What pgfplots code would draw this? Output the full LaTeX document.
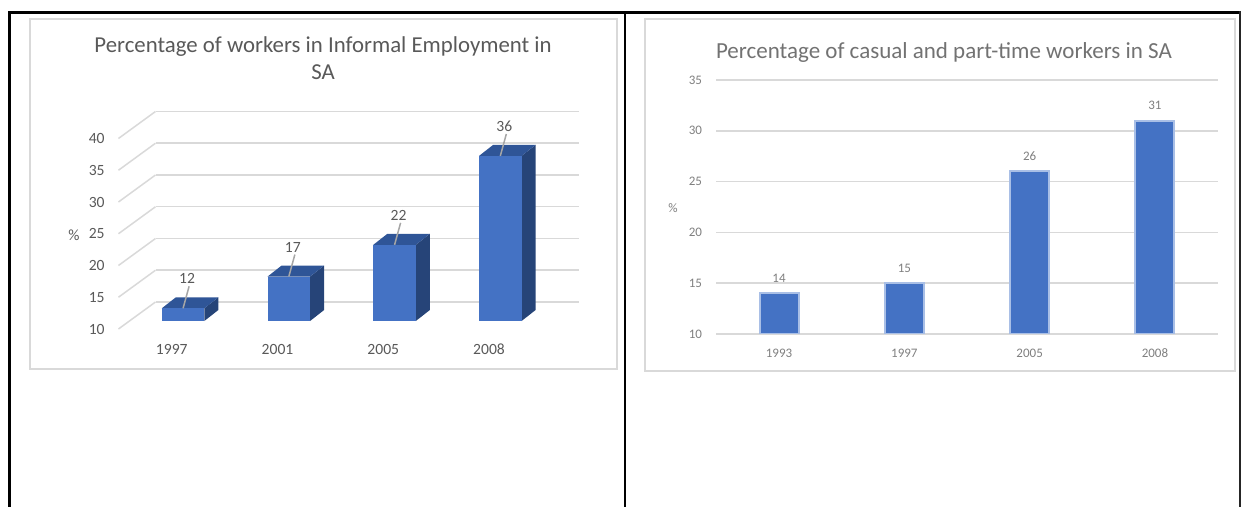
\documentclass[border=0pt]{standalone}
\usepackage{fontspec}
\setmainfont{Carlito}
\usepackage{pgfplots}
\pgfplotsset{compat=1.18}
\definecolor{barfront}{HTML}{4472C4}
\definecolor{bartop}{HTML}{2F5597}
\definecolor{barside}{HTML}{264478}
\definecolor{gridc}{HTML}{D9D9D9}
\definecolor{txt}{HTML}{595959}
\definecolor{txtr}{HTML}{7F7F7F}
\definecolor{baredge}{HTML}{A9BFE6}
\definecolor{leader}{HTML}{A6A6A6}

% 3D bar: #1 category position, #2 value
\newcommand\threedbar[2]{%
  \pgfmathsetmacro\xl{#1-0.201}%
  \pgfmathsetmacro\xr{#1+0.201}%
  \pgfmathsetmacro\xb{#1+0.201+0.1325}%
  \pgfmathsetmacro\xc{#1-0.201+0.1325}%
  \pgfmathsetmacro\vt{#2+1.73}%
  \edef\tmp{\noexpand\addplot[fill=barside, draw=none] coordinates {(\xr,10) (\xb,11.73) (\xb,\vt) (\xr,#2)};
    \noexpand\addplot[fill=bartop, draw=none] coordinates {(\xl,#2) (\xr,#2) (\xb,\vt) (\xc,\vt)};
    \noexpand\addplot[fill=barfront, draw=none] coordinates {(\xl,10) (\xr,10) (\xr,#2) (\xl,#2)};}%
  \tmp
}

\begin{document}
\begin{tikzpicture}
\useasboundingbox (0,0) rectangle (620.5pt,-253.5pt);
% table lines
\draw[black, line width=1.1pt] (4pt,-6.25pt) -- (620.5pt,-6.25pt);
\draw[black, line width=1.3pt] (4.6pt,-5.7pt) -- (4.6pt,-253.5pt);
\draw[black, line width=1.3pt] (312.5pt,-5.7pt) -- (312.5pt,-253.5pt);
\draw[black!85, line width=0.8pt] (620.1pt,-5.7pt) -- (620.1pt,-253.5pt);
% chart frames
\draw[gridc, line width=1pt] (15pt,-9.75pt) rectangle (308.5pt,-184.75pt);
\draw[gridc, line width=1pt] (322.5pt,-9.75pt) rectangle (617.5pt,-185.75pt);

% ---------- left chart (3D) ----------
\begin{axis}[
  at={(65.1pt,-160.5pt)}, anchor=south west,
  scale only axis, width=211.5pt, height=95.25pt,
  xmin=0.5, xmax=4.5, ymin=10, ymax=40,
  clip=false,
  axis line style={draw=none}, tick style={draw=none},
  xtick={1,2,3,4}, xticklabels={1997,2001,2005,2008},
  ytick={10,15,...,40},
  ymajorgrids,
  major grid style={gridc, line width=0.75pt, xshift=12.65pt, yshift=9.5pt},
  /pgf/number format/assume math mode=true,
  yticklabel style={anchor=east, inner sep=0pt, xshift=-12.6pt, yshift=-4pt,
    font=\fontsize{7.8}{9}\selectfont, text=txt},
  xticklabel style={anchor=center, inner sep=0pt, xshift=-5.65pt, yshift=-14pt,
    font=\fontsize{7.8}{9}\selectfont, text=txt},
  ylabel={\%},
  every axis y label/.style={at={(axis cs:-0.032,23.54)}, anchor=center,
    font=\fontsize{7.8}{9}\selectfont, text=txt},
  title={Percentage of workers in Informal Employment in\\SA},
  every axis title/.style={at={(rel axis cs:0.456,1.378)}, anchor=center,
    align=center, font=\fontsize{11.4}{13.5}\selectfont, text=txt},
]
% left wall diagonals
\draw[gridc, line width=0.75pt] (axis cs:0.389,8.74) -- (axis cs:0.739,12.99);
\draw[gridc, line width=0.75pt] (axis cs:0.389,13.74) -- (axis cs:0.739,17.99);
\draw[gridc, line width=0.75pt] (axis cs:0.389,18.74) -- (axis cs:0.739,22.99);
\draw[gridc, line width=0.75pt] (axis cs:0.389,23.74) -- (axis cs:0.739,27.99);
\draw[gridc, line width=0.75pt] (axis cs:0.389,28.74) -- (axis cs:0.739,32.99);
\draw[gridc, line width=0.75pt] (axis cs:0.389,33.74) -- (axis cs:0.739,37.99);
\draw[gridc, line width=0.75pt] (axis cs:0.389,38.74) -- (axis cs:0.739,42.99);
\threedbar{1}{12}
\threedbar{2}{17}
\threedbar{3}{22}
\threedbar{4}{36}
% leader lines
\addplot[quiver={u=0.057,v=3.46}, draw=leader, line width=0.75pt]
  coordinates {(1,12) (2,17) (3,22) (4,36)};
% data labels
\addplot[draw=none, nodes near coords,
  every node near coord/.append style={anchor=center, inner sep=0pt,
    xshift=2pt, yshift=14.7pt, font=\fontsize{7.8}{9}\selectfont, text=txt}]
  coordinates {(1,12) (2,17) (3,22) (4,36)};
\end{axis}

% ---------- right chart (flat) ----------
\begin{axis}[
  at={(358.2pt,-167pt)}, anchor=south west,
  scale only axis, width=250.6pt, height=127pt,
  xmin=0.5, xmax=4.5, ymin=10, ymax=35,
  axis line style={draw=none}, tick style={draw=none},
  xtick={1,2,3,4}, xticklabels={1993,1997,2005,2008},
  ytick={10,15,...,35},
  ymajorgrids,
  major grid style={gridc, line width=0.75pt},
  /pgf/number format/assume math mode=true,
  yticklabel style={anchor=east, inner sep=0pt, xshift=-7pt,
    font=\fontsize{6.5}{8}\selectfont, text=txtr},
  xticklabel style={anchor=center, inner sep=0pt, yshift=-9.5pt,
    font=\fontsize{6.5}{8}\selectfont, text=txtr},
  ylabel={\%},
  every axis y label/.style={at={(axis cs:0.154,22.4)}, anchor=center,
    font=\fontsize{6.5}{8}\selectfont, text=txtr},
  title={Percentage of casual and part-time workers in SA},
  every axis title/.style={at={(rel axis cs:0.454,1.110)}, anchor=center,
    font=\fontsize{11.5}{13}\selectfont, text=txt!85},
]
\addplot[ybar, bar width=19.5pt, fill=barfront, draw=baredge, line width=1pt,
  nodes near coords,
  every node near coord/.append style={anchor=center, inner sep=0pt, yshift=7.5pt,
    font=\fontsize{6.5}{8}\selectfont, text=txtr}]
  coordinates {(1,14) (2,15) (3,26) (4,31)};
\end{axis}
\end{tikzpicture}
\end{document}
